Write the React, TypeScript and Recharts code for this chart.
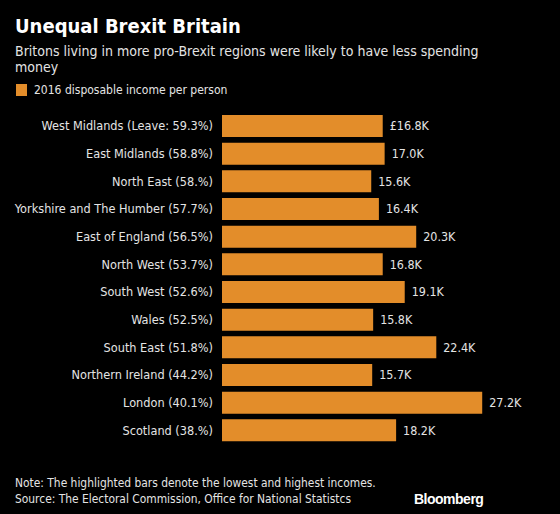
import { BarChart, Bar, XAxis, YAxis, LabelList } from 'recharts';

const regions = [
  'West Midlands (Leave: 59.3%)',
  'East Midlands (58.8%)',
  'North East (58.%)',
  'Yorkshire and The Humber (57.7%)',
  'East of England (56.5%)',
  'North West (53.7%)',
  'South West (52.6%)',
  'Wales (52.5%)',
  'South East (51.8%)',
  'Northern Ireland (44.2%)',
  'London (40.1%)',
  'Scotland (38.%)',
];

const income = [16.8, 17.0, 15.6, 16.4, 20.3, 16.8, 19.1, 15.8, 22.4, 15.7, 27.2, 18.2];

const FONT = '"DejaVu Sans Condensed", "DejaVu Sans", sans-serif';
const ORANGE = '#E38D2A';
const TEXT = '#e4e4e4';

const data = regions.map((region, i) => ({
  region,
  income: income[i],
  label: (i === 0 ? '£' : '') + income[i].toFixed(1) + 'K',
}));

// single-line tick so long region names don't wrap
const RegionTick = ({ x, y, payload }: any) => (
  <text x={x} y={y} dy={4.5} textAnchor="end" fill={TEXT} fontSize={12.6} fontFamily={FONT}>
    {payload.value}
  </text>
);

export default function App() {
  return (
    <div
      style={{
        position: 'absolute',
        top: 0,
        left: 0,
        width: 560,
        height: 514,
        background: '#000',
        fontFamily: FONT,
        color: TEXT,
        overflow: 'hidden',
      }}
    >
      <div style={{ position: 'absolute', left: 15, top: 14, fontSize: 20, fontWeight: 'bold', color: '#fff' }}>
        Unequal Brexit Britain
      </div>
      <div style={{ position: 'absolute', left: 15, top: 43, width: 500, fontSize: 14, lineHeight: '16px' }}>
        Britons living in more pro-Brexit regions were likely to have less spending money
      </div>
      <div style={{ position: 'absolute', left: 16, top: 84, width: 11, height: 12, background: ORANGE }} />
      <div style={{ position: 'absolute', left: 34, top: 82, fontSize: 12, lineHeight: '16px' }}>
        2016 disposable income per person
      </div>

      <div style={{ position: 'absolute', left: 0, top: 0 }}>
        <BarChart
          width={560}
          height={514}
          data={data}
          layout="vertical"
          margin={{ top: 112, right: 51, bottom: 70, left: 0 }}
          barSize={22}
        >
          <XAxis type="number" domain={[0, 30]} hide />
          <YAxis
            type="category"
            dataKey="region"
            width={222}
            axisLine={false}
            tickLine={false}
            tickSize={0}
            tickMargin={9}
            tick={<RegionTick />}
            interval={0}
          />
          <Bar dataKey="income" fill={ORANGE} isAnimationActive={false}>
            <LabelList dataKey="label" position="right" offset={7} fill={TEXT} fontSize={12.4} fontFamily={FONT} />
          </Bar>
        </BarChart>
      </div>

      <div style={{ position: 'absolute', left: 15, top: 475, fontSize: 11.9, lineHeight: '16px' }}>
        Note: The highlighted bars denote the lowest and highest incomes.
        <br />
        Source: The Electoral Commission, Office for National Statistcs
      </div>
      <div
        style={{
          position: 'absolute',
          left: 414,
          top: 491,
          fontSize: 14,
          fontWeight: 'bold',
          fontFamily: '"Liberation Sans", Arial, sans-serif',
          color: '#fff',
          letterSpacing: -0.5,
        }}
      >
        Bloomberg
      </div>
    </div>
  );
}
